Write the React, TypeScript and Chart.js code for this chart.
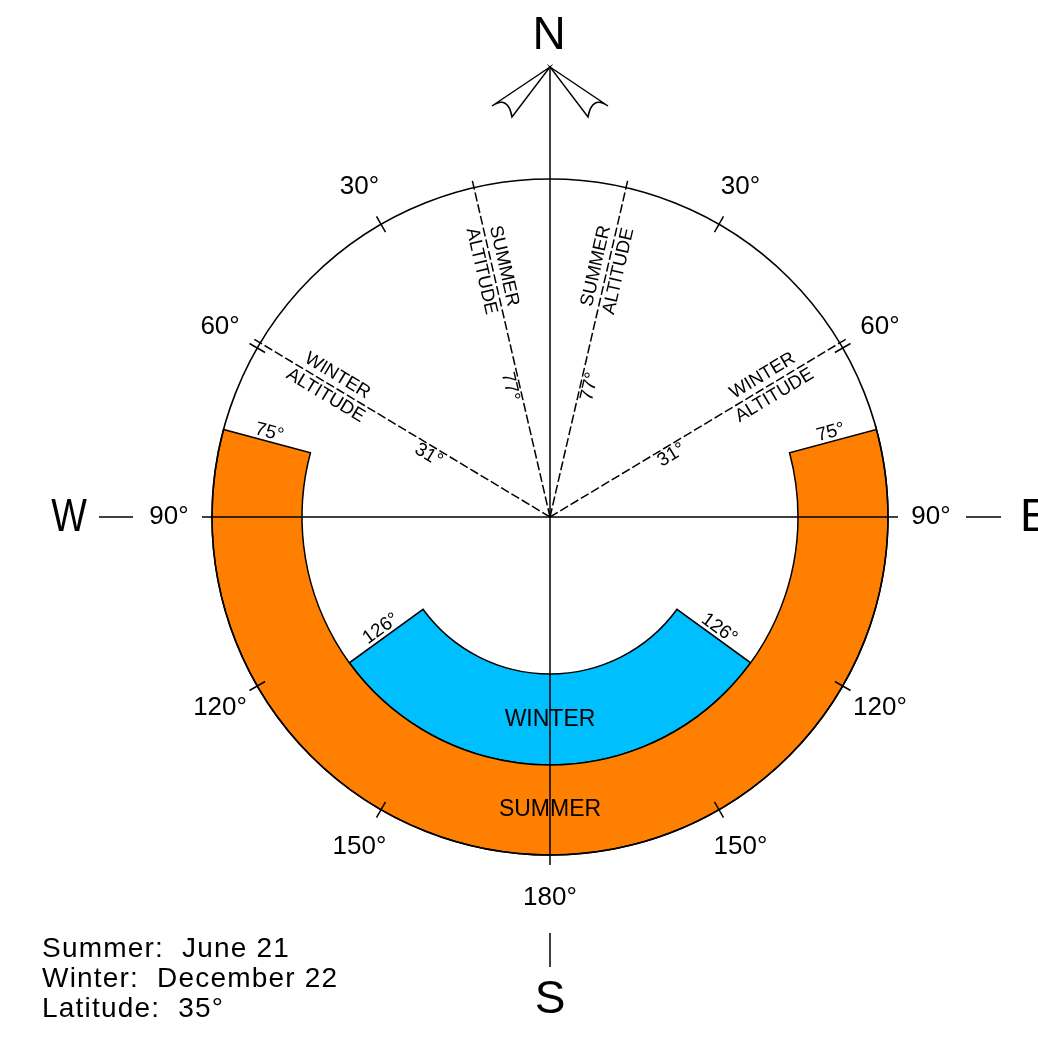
import { useEffect, useRef } from 'react';
import { Chart, registerables } from 'chart.js';

Chart.register(...registerables);

// ---- data ----
const seasons = ['SUMMER', 'WINTER'];
const seasonNames = ['Summer', 'Winter'];
const seasonDates = ['June 21', 'December 22'];
const latitude = 35;
const riseAzimuth = [75, 126]; // sunrise azimuth, degrees from north
const altitude = [77, 31]; // noon altitude, degrees
const seasonColors = ['#FF8000', '#00BFFF'];
const tickAzimuths = [30, 60, 120, 150];
const labelAzimuths = [30, 60, 90, 120, 150];
const southLabel = 180;

const FONT = '"Liberation Sans", Arial, sans-serif';
const rad = (d: number) => (d * Math.PI) / 180;

const annotPlugin = {
  id: 'sunpath',
  afterDatasetsDraw(chart: any) {
    const ctx: CanvasRenderingContext2D = chart.ctx;
    const frame = chart.getDatasetMeta(0).data[0] as any;
    const cx: number = frame.x;
    const cy: number = frame.y;
    const R: number = frame.outerRadius;
    const ringEls = [chart.getDatasetMeta(1).data[0] as any, chart.getDatasetMeta(2).data[0] as any];

    const pt = (az: number, r: number): [number, number] => [
      cx + r * Math.sin(rad(az)),
      cy - r * Math.cos(rad(az)),
    ];
    const line = (a: [number, number], b: [number, number]) => {
      ctx.beginPath();
      ctx.moveTo(a[0], a[1]);
      ctx.lineTo(b[0], b[1]);
      ctx.stroke();
    };
    const text = (t: string, x: number, y: number, size: number, align: CanvasTextAlign = 'center') => {
      ctx.font = `${size}px ${FONT}`;
      ctx.textAlign = align;
      ctx.textBaseline = 'middle';
      ctx.fillText(t, x, y);
    };
    // text along a radial direction, offset perpendicular (positive = above)
    const textAlong = (t: string, az: number, dist: number, offset: number, size: number) => {
      const ux = Math.sin(rad(az));
      const uy = -Math.cos(rad(az));
      const left = ux < 0;
      const rot = left ? Math.atan2(-uy, -ux) : Math.atan2(uy, ux);
      ctx.save();
      ctx.translate(cx + ux * dist, cy + uy * dist);
      ctx.rotate(rot);
      ctx.font = `${size}px ${FONT}`;
      ctx.textAlign = 'center';
      ctx.textBaseline = 'middle';
      ctx.fillText(t, 0, -offset);
      ctx.restore();
    };

    ctx.save();
    ctx.strokeStyle = '#000';
    ctx.fillStyle = '#000';
    ctx.lineWidth = 1.5;
    ctx.lineCap = 'butt';

    // main cross
    line(pt(270, R + 10), pt(90, R + 10));
    line(pt(0, R + 112), pt(180, R + 10));

    // ticks on the circle
    for (const a of tickAzimuths) {
      for (const az of [a, 360 - a]) line(pt(az, R - 9), pt(az, R + 9));
    }

    // compass labels
    for (const a of labelAzimuths) {
      for (const az of [a, 360 - a]) {
        const [x, y] = pt(az, R + 43);
        text(`${a}°`, x, y, 26);
      }
    }
    {
      const [x, y] = pt(southLabel, R + 43);
      text(`${southLabel}°`, x, y, 26);
    }

    // W / E / N / S markers
    line([cx - 451, cy], [cx - 417, cy]);
    line([cx + 416, cy], [cx + 451, cy]);
    ctx.save();
    ctx.translate(cx - 481, cy + 1);
    ctx.scale(0.82, 1);
    text('W', 0, 0, 46);
    ctx.restore();
    text('E', cx + 470, cy + 1, 46, 'left');
    line([cx, cy + 416], [cx, cy + 450]);
    text('S', cx, cy + 483, 46);
    text('N', cx - 1, cy - 481, 46);

    // north arrow
    const tipX = cx;
    const tipY = cy - (R + 112);
    for (const s of [-1, 1]) {
      ctx.beginPath();
      ctx.moveTo(tipX, tipY);
      ctx.lineTo(tipX + s * 58, tipY + 39);
      ctx.quadraticCurveTo(tipX + s * 42, tipY + 28, tipX + s * 38, tipY + 50);
      ctx.closePath();
      ctx.stroke();
    }

    // altitude lines
    for (let i = 0; i < seasons.length; i++) {
      const az = 90 - altitude[i];
      for (const a of [az, 360 - az]) {
        ctx.setLineDash([9, 3]);
        line([cx, cy], pt(a, R + 7));
        ctx.setLineDash([]);
        textAlong(seasons[i], a, 255, 11.5, 18.5);
        textAlong('ALTITUDE', a, 255, -11.5, 18.5);
        textAlong(`${altitude[i]}°`, a, 136, -9.5, 19);
      }
    }

    // sunrise azimuth labels and season names
    for (let i = 0; i < seasons.length; i++) {
      const el = ringEls[i];
      const mid = (el.outerRadius + el.innerRadius) / 2;
      for (const a of [riseAzimuth[i], 360 - riseAzimuth[i]]) {
        textAlong(`${riseAzimuth[i]}°`, a, mid, 9, 19);
      }
      const [x, y] = pt(180, mid);
      text(seasons[i], x, y, 23);
    }

    // notes
    const notes = [
      `${seasonNames[0]}:  ${seasonDates[0]}`,
      `${seasonNames[1]}:  ${seasonDates[1]}`,
      `Latitude:  ${latitude}°`,
    ];
    ctx.font = `28px ${FONT}`;
    (ctx as any).letterSpacing = '1.2px';
    ctx.textAlign = 'left';
    ctx.textBaseline = 'alphabetic';
    notes.forEach((n, i) => ctx.fillText(n, 42, 957 + i * 30));
    (ctx as any).letterSpacing = '0px';

    ctx.restore();
  },
};

export default function App() {
  const ref = useRef<HTMLCanvasElement>(null);
  useEffect(() => {
    const summerSpan = 360 - 2 * riseAzimuth[0];
    const winterSpan = 360 - 2 * riseAzimuth[1];
    const chart = new Chart(ref.current as HTMLCanvasElement, {
      type: 'doughnut',
      data: {
        labels: ['arc'],
        datasets: [
          {
            label: 'horizon',
            data: [360],
            backgroundColor: 'rgba(0,0,0,0)',
            borderColor: '#000',
            borderWidth: 1.6,
            weight: 0,
            rotation: 0,
            circumference: 360,
          } as any,
          {
            label: seasons[0],
            data: [summerSpan],
            backgroundColor: seasonColors[0],
            borderColor: '#000',
            borderWidth: 1.5,
            borderJoinStyle: 'miter',
            weight: 90,
            rotation: riseAzimuth[0],
            circumference: summerSpan,
          } as any,
          {
            label: seasons[1],
            data: [winterSpan],
            backgroundColor: seasonColors[1],
            borderColor: '#000',
            borderWidth: 1.5,
            borderJoinStyle: 'miter',
            weight: 91,
            rotation: riseAzimuth[1],
            circumference: winterSpan,
          } as any,
        ],
      },
      options: {
        responsive: false,
        animation: false,
        events: [],
        radius: 338,
        cutout: '46.45%',
        layout: { padding: { left: 100, right: 38, top: 100, bottom: 104 } },
        plugins: { legend: { display: false }, tooltip: { enabled: false } },
      } as any,
      plugins: [annotPlugin],
    });
    return () => chart.destroy();
  }, []);
  return (
    <div style={{ position: 'absolute', left: 0, top: 0, width: 1038, height: 1038, background: '#fff', overflow: 'hidden' }}>
      <canvas ref={ref} width={1038} height={1038} style={{ width: 1038, height: 1038, display: 'block' }} />
    </div>
  );
}
